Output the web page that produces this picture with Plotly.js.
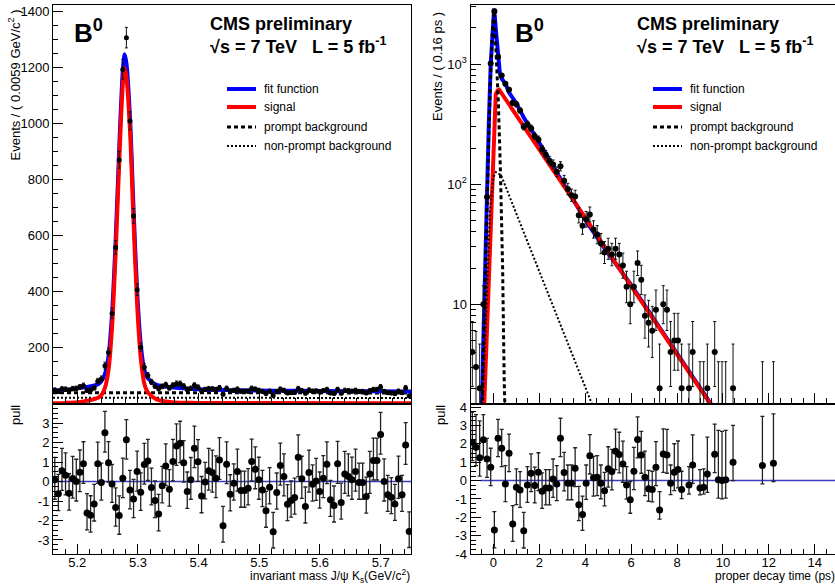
<!DOCTYPE html>
<html><head><meta charset="utf-8">
<script src="https://cdn.plot.ly/plotly-3.0.1.min.js"></script>
<style>html,body{margin:0;padding:0;background:#fff}#chart{width:835px;height:584px}</style>
</head><body><div id="chart"></div>
<script>
const W = 835, H = 584;
const FONT = 'Liberation Sans, Arial, Helvetica, sans-serif';

// ---------------- B0 invariant mass ----------------
const massLow = 5.16, massBinWidth = 0.0059;
const massCounts = [
  48, 43, 52, 51, 47, 53, 54, 59, 64, 47,
  48, 56, 80, 88, 135, 183, 322, 557, 870, 1193,
  1306, 1009, 670, 406, 201, 130, 100, 77, 62, 53,
  61, 67, 56, 65, 71, 71, 62, 50, 54, 65,
  58, 45, 50, 53, 52, 50, 56, 33, 54, 44,
  47, 51, 44, 44, 44, 54, 51, 47, 43, 36,
  44, 29, 42, 51, 47, 38, 39, 40, 53, 46,
  37, 48, 44, 45, 41, 46, 50, 38, 36, 50,
  37, 47, 46, 44, 47, 43, 43, 38, 46, 50,
  50, 59, 43, 39, 38, 35, 44, 39, 56, 27];
const massPull = [
  0.09, -0.63, 0.55, 0.32, -0.6, 0.15, 0.0, 0.48, 0.91, -1.62,
  -1.73, -1.15, 0.91, -0.05, 2.51, 0.97, -0.12, -1.33, -1.74, 0.17,
  2.15, -0.43, -0.89, 0.51, -0.55, 0.87, 1.06, -0.31, -0.97, -1.66,
  -0.22, 0.8, -0.39, 1.03, 1.83, 1.97, 0.97, -0.51, 0.09, 1.71,
  1.01, -0.74, -0.02, 0.56, 0.46, 0.17, 1.11, -2.27, 0.89, -0.65,
  -0.09, 0.51, -0.46, -0.46, -0.34, 1.03, 0.63, 0.09, -0.43, -1.5,
  -0.29, -2.58, -0.56, 0.82, 0.26, -1.16, -0.97, -0.82, 1.25, 0.14,
  -1.28, 0.46, -0.14, 0.03, -0.51, 0.17, 0.89, -0.94, -1.23, 0.91,
  -1.08, 0.39, 0.26, 0.09, 0.51, -0.05, -0.05, -0.77, 0.39, 1.08,
  1.08, 2.41, 0.0, -0.68, -0.8, -1.15, 0.14, -0.68, 1.88, -2.56];
const fitMassX = [5.16, 5.18, 5.2004, 5.2251, 5.2350, 5.2398, 5.2457, 5.2515, 5.2574, 5.2633, 5.2693, 5.2750, 5.2780, 5.2810, 5.2869, 5.2928, 5.2988, 5.3047, 5.3105, 5.3164, 5.3308, 5.3553, 5.40, 5.45, 5.52, 5.60, 5.75];
const fitMassY = [47, 49, 55, 63, 70, 80, 106, 170, 324, 588, 921, 1187, 1247, 1215, 1023, 693, 396, 209, 120, 90, 67, 58, 51, 48, 46, 45, 43];
const sigMassX = [5.16, 5.18, 5.2004, 5.2251, 5.2350, 5.2398, 5.2457, 5.2515, 5.2574, 5.2633, 5.2693, 5.2750, 5.2780, 5.2810, 5.2869, 5.2928, 5.2988, 5.3047, 5.3105, 5.3164, 5.3308, 5.3553, 5.40, 5.75];
const sigMassY = [1.5, 2.5, 5, 14, 22, 30, 57, 120, 275, 540, 872, 1138, 1198, 1166, 974, 644, 347, 160, 71, 40, 15, 5, 2.5, 1];
const promptMassX = [5.16, 5.75];
const promptMassY = [39, 38];
const nonpromptMassX = [5.16, 5.75];
const nonpromptMassY = [21, 20];

// ---------------- B0 proper decay time ----------------
const timeLow = -1, timeBinWidth = 0.16;
const timeCounts = [
  4, 3, 2, 10, 78, 1013, 2750, 1151, 805, 685,
  610, 476, 462, 410, 300, 316, 292, 251, 235, 195,
  176, 157, 146, 127, 141, 107, 91, 81, 79, 55,
  45, 51, 56, 42, 38, 32, 27, 29, 26, 29,
  26, 21, 14, 10, 14, 22, 16, 8, 7, 6,
  9, 2, 10, 9, 4, 5, 5, 2, 0, 2,
  4, 0, 1, 1, 2, 0, 4, 1, 1, 1,
  0, 2, 0, 0, 0, 0, 0, 0, 0, 1,
  0, 0, 1, 0, 0, 0, 0, 0, 0, 0,
  0, 0, 0, 0, 0, 0, 0, 0, 0, 0];
const timePull = [
  2.09, 1.82, 1.24, 2.22, 1.18, 0.73, -2.69, 2.31, 1.76, -0.18,
  1.49, -2.36, -0.36, -0.51, -2.73, -0.24, 0.4, -0.27, 0.45, -0.58,
  -0.4, -0.4, 0.09, -0.18, 2.31, 0.44, -0.15, -0.15, 0.67, -1.31,
  -1.85, -0.15, 1.36, 0.15, 0.18, -0.15, -0.55, 0.64, 0.49, 1.6,
  1.42, 0.91, -0.24, -1.05, 0.51, 2.24, 1.4, 0.18, -0.44, -0.49,
  0.73, -1.6, 1.45, 1.4, -0.15, 0.45, 0.6, -0.49, null, -0.24,
  0.85, null, -0.4, -0.36, 0.36, null, 1.44, 0.05, 0.0, 0.05,
  null, 1.0, null, null, null, null, null, null, null, 0.82,
  null, null, 0.95, null, null, null, null, null, null, null,
  null, null, null, null, null, null, null, null, null, null];
const fitTimeX = [-0.56, -0.5, -0.44, -0.36, -0.28, -0.2, -0.12, -0.04, 0.03, 0.12, 0.2, 0.28, 0.36, 0.52, 0.68, 0.84, 1.0, 1.34, 1.93, 2.65, 3.38, 4.1, 4.85, 6.0, 7.0, 8.0, 9.43, 10.0];
const fitTimeY = [0.8, 1.5, 5, 25, 70, 330, 990, 2200, 2900, 1800, 1080, 840, 755, 690, 580, 525, 470, 353, 233, 135, 78, 47, 29, 14.5, 7.5, 3.9, 1.55, 1.05];
const sigTimeX = [-0.48, -0.40, 0.10, 0.18, 0.25, 9.43, 10.0];
const sigTimeY = [0.8, 1.5, 560, 603, 612, 1.5, 1.03];
const promptTimeX = [-0.56, -0.5, -0.44, -0.36, -0.28, -0.2, -0.12, -0.04, 0.03, 0.12, 0.21, 0.30, 0.40, 0.47, 0.52];
const promptTimeY = [0.7, 1.2, 4, 20, 55, 270, 850, 2000, 2750, 1300, 500, 138, 20, 2.2, 1.0];
const nonpromptTimeX = [-0.5, -0.3, -0.15, 0.0, 0.11, 0.33, 4.28, 4.6];
const nonpromptTimeY = [1.0, 10, 60, 115, 126, 119, 1.5, 1.05];

// ---------------- helpers ----------------
const massCenters = massCounts.map((_, k) => massLow + massBinWidth * (k + 0.5));
const timeCenters = timeCounts.map((_, k) => timeLow + timeBinWidth * (k + 0.5));
const errHi = n => Math.sqrt(n + 0.75) + 1;
const errLo = n => Math.sqrt(Math.max(n - 0.25, 0));
function pullErr(pulls, counts) {
  const up = [], dn = [];
  pulls.forEach((p, k) => {
    const n = counts[k];
    if (p === null || n <= 0) { up.push(0); dn.push(0); return; }
    if (p >= 0) { up.push(errHi(n) / errLo(n)); dn.push(1); }
    else { up.push(1); dn.push(errLo(n) / errHi(n)); }
  });
  return {up, dn};
}
const px = x => x / W;
const py = y => 1 - y / H;

const mErr = pullErr(massPull, massCounts);
const tErr = pullErr(timePull, timeCounts);
const timeY = timeCounts.map(n => n > 0 ? n : null);

const BLUE = '#0000ff', RED = '#ff0000';
const dataStyle = (size) => ({mode: 'markers', marker: {color: 'black', size: size}});

const traces = [
  // left top
  {x: nonpromptMassX, y: nonpromptMassY, xaxis: 'x', yaxis: 'y', mode: 'lines', line: {color: 'black', width: 2, dash: '2px,2px'}},
  {x: promptMassX, y: promptMassY, xaxis: 'x', yaxis: 'y', mode: 'lines', line: {color: 'black', width: 3, dash: '4px,3px'}},
  {x: fitMassX, y: fitMassY, xaxis: 'x', yaxis: 'y', mode: 'lines', line: {color: BLUE, width: 4, shape: 'spline', smoothing: 0.8}},
  {x: sigMassX, y: sigMassY, xaxis: 'x', yaxis: 'y', mode: 'lines', line: {color: RED, width: 4, shape: 'spline', smoothing: 0.8}},
  Object.assign({x: massCenters, y: massCounts, xaxis: 'x', yaxis: 'y',
    error_y: {type: 'data', symmetric: false, array: massCounts.map(errHi), arrayminus: massCounts.map(errLo), color: '#111', thickness: 1, width: 1.5}}, dataStyle(5)),
  // left pull
  {x: [massLow, 5.75], y: [0, 0], xaxis: 'x2', yaxis: 'y2', mode: 'lines', line: {color: '#3b3bc4', width: 1.5}},
  Object.assign({x: massCenters, y: massPull, xaxis: 'x2', yaxis: 'y2',
    error_y: {type: 'data', symmetric: false, array: mErr.up, arrayminus: mErr.dn, color: '#222', thickness: 1.3, width: 2}}, dataStyle(7)),
  // right top
  {x: fitTimeX, y: fitTimeY, xaxis: 'x3', yaxis: 'y3', mode: 'lines', line: {color: BLUE, width: 4}},
  {x: sigTimeX, y: sigTimeY, xaxis: 'x3', yaxis: 'y3', mode: 'lines', line: {color: RED, width: 4}},
  {x: promptTimeX, y: promptTimeY, xaxis: 'x3', yaxis: 'y3', mode: 'lines', line: {color: 'black', width: 3, dash: '4px,3px'}},
  {x: nonpromptTimeX, y: nonpromptTimeY, xaxis: 'x3', yaxis: 'y3', mode: 'lines', line: {color: 'black', width: 2, dash: '2px,2px'}},
  Object.assign({x: timeCenters, y: timeY, xaxis: 'x3', yaxis: 'y3',
    error_y: {type: 'data', symmetric: false, array: timeCounts.map(n => n > 0 ? errHi(n) : 0), arrayminus: timeCounts.map(n => n > 0 ? errLo(n) : 0), color: '#111', thickness: 1, width: 1.5}}, dataStyle(6)),
  // right pull
  {x: [-0.55, 15], y: [0, 0], xaxis: 'x4', yaxis: 'y4', mode: 'lines', line: {color: '#3b3bc4', width: 1.5}},
  Object.assign({x: timeCenters, y: timePull, xaxis: 'x4', yaxis: 'y4',
    error_y: {type: 'data', symmetric: false, array: tErr.up, arrayminus: tErr.dn, color: '#222', thickness: 1.3, width: 2}}, dataStyle(7))
];
traces.forEach(t => { t.showlegend = false; t.hoverinfo = 'skip'; });

const tickfont = {family: FONT, size: 13, color: 'black'};
const base = {showline: true, linecolor: 'black', linewidth: 1, ticks: 'inside', ticklen: 10, tickwidth: 1, tickcolor: 'black',
  showgrid: false, zeroline: false, tickfont: tickfont, fixedrange: true};
const minor = (d) => ({ticks: 'inside', ticklen: 5, tickwidth: 1, tickcolor: 'black', dtick: d, showgrid: false});

const LX = [53 / W, 411 / W], RX = [470.5 / W, 1];
const TOPY = [py(403.3), py(5)], BOTY = [py(554), py(405)];
const massRange = [5.16, 5.75], timeRange = [-1, -1 + (W - 470.5) / 22.95];
const pullTickVals = [-4, -3, -2, -1, 0, 1, 2, 3, 4];
const pullTickText = pullTickVals.map(v => String(v));

const layout = {
  width: W, height: H, margin: {l: 0, r: 0, t: 0, b: 0}, paper_bgcolor: 'white', plot_bgcolor: 'white', showlegend: false,
  font: {family: FONT, color: 'black'},
  xaxis: Object.assign({}, base, {domain: LX, range: massRange, anchor: 'y', tick0: 5.2, dtick: 0.1, minor: minor(0.02), showticklabels: false, mirror: true}),
  yaxis: Object.assign({}, base, {domain: TOPY, range: [1, 1423], anchor: 'x', tick0: 200, dtick: 200, minor: minor(50), mirror: true}),
  xaxis2: Object.assign({}, base, {domain: LX, range: massRange, anchor: 'y2', tick0: 5.2, dtick: 0.1, tickformat: '.1f', minor: minor(0.02), mirror: true, ticklabelstandoff: -4}),
  yaxis2: Object.assign({}, base, {domain: BOTY, range: [-3.72, 3.93], anchor: 'x2', tickmode: 'array', tickvals: pullTickVals, ticktext: pullTickText,
    minor: {ticks: 'inside', ticklen: 5, tickcolor: 'black', tickmode: 'linear', tick0: 0, dtick: 0.25}, mirror: true}),
  xaxis3: Object.assign({}, base, {domain: RX, range: timeRange, anchor: 'y3', tick0: 0, dtick: 2, minor: minor(0.5), showticklabels: false, mirror: true}),
  yaxis3: Object.assign({}, base, {domain: TOPY, type: 'log', range: [0.175, 3.492], anchor: 'x3', tickmode: 'array',
    tickvals: [10, 100, 1000], ticktext: ['10', '10<sup>2</sup>', '10<sup>3</sup>'],
    minor: {ticks: 'inside', ticklen: 5, tickcolor: 'black', tickmode: 'array',
      tickvals: [2, 3, 4, 5, 6, 7, 8, 9, 20, 30, 40, 50, 60, 70, 80, 90, 200, 300, 400, 500, 600, 700, 800, 900, 2000, 3000]}}),
  xaxis4: Object.assign({}, base, {domain: RX, range: timeRange, anchor: 'y4', tick0: 0, dtick: 2, minor: minor(0.5), mirror: true, ticklabelstandoff: -4}),
  yaxis4: Object.assign({}, base, {domain: BOTY, range: [-4, 4.12], anchor: 'x4', tickmode: 'array', tickvals: pullTickVals, ticktext: pullTickText,
    minor: {ticks: 'inside', ticklen: 5, tickcolor: 'black', tickmode: 'linear', tick0: 0, dtick: 0.25}}),
  shapes: [],
  annotations: []
};

function ann(text, x, y, opts) {
  layout.annotations.push(Object.assign({text: text, x: px(x), y: py(y), xref: 'paper', yref: 'paper', showarrow: false,
    xanchor: 'left', yanchor: 'middle', font: {family: FONT, size: 13, color: 'black'}}, opts || {}));
}
function legLine(x0, x1, y, color, width, dash) {
  layout.shapes.push({type: 'line', xref: 'paper', yref: 'paper', x0: px(x0), x1: px(x1), y0: py(y), y1: py(y),
    line: {color: color, width: width, dash: dash || 'solid'}});
}
const legendItems = ['fit function', 'signal', 'prompt background', 'non-prompt background'];
const legendRows = [89, 107, 127, 146];
[[227, 256, 262, 208, 72], [653, 682, 688, 635, 513]].forEach(([l0, l1, tx, cx, bx]) => {
  legLine(l0, l1, legendRows[0], BLUE, 4);
  legLine(l0, l1, legendRows[1], RED, 4);
  legLine(l0, l1, legendRows[2], 'black', 3, '4px,3px');
  legLine(l0, l1, legendRows[3], 'black', 2, '2px,2px');
  legendItems.forEach((t, i) => ann(t, tx, legendRows[i], {font: {family: FONT, size: 12, color: 'black'}}));
  ann('<b>CMS preliminary</b>', cx, 24, {font: {family: FONT, size: 18, color: 'black'}});
  ann('<b>√s = 7 TeV   L = 5 fb<sup>-1</sup></b>', cx, 45, {font: {family: FONT, size: 18, color: 'black'}});
  ann('<b>B<sup>0</sup></b>', bx, 31, {font: {family: FONT, size: 26, color: 'black'}});
});
ann('Events / ( 0.0059 GeV/c<sup>2</sup> )', 14.5, 85, {xanchor: 'center', textangle: -90});
ann('Events / ( 0.16 ps )', 438, 67, {xanchor: 'center', textangle: -90});
ann('pull', 15, 415, {xanchor: 'center', textangle: -90});
ann('pull', 440, 415, {xanchor: 'center', textangle: -90});
ann('invariant mass J/ψ K<sub>s</sub>(GeV/c<sup>2</sup>)', 412, 576, {xanchor: 'right', font: {family: FONT, size: 12, color: 'black'}});
ann('proper decay time (ps)', 713, 576, {xanchor: 'left', font: {family: FONT, size: 12, color: 'black'}});

Plotly.newPlot('chart', traces, layout, {staticPlot: true, displayModeBar: false});
</script>
</body></html>
